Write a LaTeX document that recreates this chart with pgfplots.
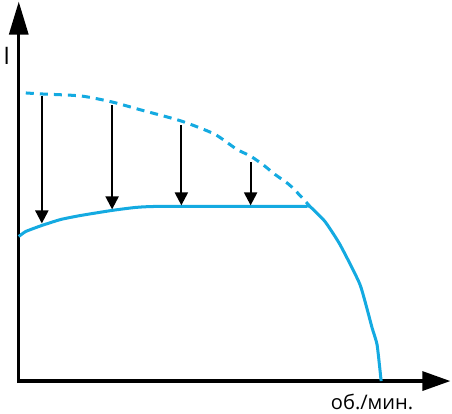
\documentclass[border=0pt]{standalone}
\usepackage{pgfplots}
\pgfplotsset{compat=1.18}
\usepackage{fontspec}
\setmainfont{Open Sans}
\usetikzlibrary{arrows.meta}
\definecolor{cblue}{RGB}{20,170,225}
\begin{document}
\begin{tikzpicture}
\begin{axis}[
  scale only axis, width=452pt, height=413pt,
  xmin=0, xmax=452, ymin=0, ymax=413,
  axis lines=none, clip=false,
]
% axes
\addplot[line width=3.2pt, -{Triangle[length=33pt,width=19pt]}] coordinates {(18,30) (18,410)};
\addplot[line width=3.2pt, -{Triangle[length=28pt,width=19pt]}] coordinates {(16.4,32) (448,32)};
% dashed curve
\addplot[cblue, line width=3pt, dash pattern=on 8pt off 6pt, smooth, tension=0.4] coordinates {
(25,319) (41,318) (80,316) (111,310) (140,302) (180,291) (213,278) (235,263) (249,256) (262,247) (273,238) (287,228) (300,215) (308,206)};
% solid curve
\addplot[cblue, line width=3pt, smooth, tension=0.3] coordinates {
(18,176) (25,181) (41,187) (60,193) (80,197) (111,202) (135,205) (160,206) (305,206)};
\addplot[cblue, line width=3pt, smooth, tension=0.3] coordinates {
(305,206) (308,206) (323,191) (338,168) (358,128) (370,85) (375,68) (379,32)};
% arrows
\addplot[line width=2.2pt, -{Triangle[length=13pt,width=13pt]}] coordinates {(41,316) (41,189)};
\addplot[line width=2.2pt, -{Triangle[length=13pt,width=13pt]}] coordinates {(111,307) (111,203)};
\addplot[line width=2.2pt, -{Triangle[length=13pt,width=13pt]}] coordinates {(180,287) (180,207)};
\addplot[line width=2.2pt, -{Triangle[length=13pt,width=13pt]}] coordinates {(249,250) (249,207)};
\node[font=\fontsize{24}{28}\selectfont] at (axis cs:6,356) {I};
\node[font=\fontsize{20}{24}\selectfont] at (axis cs:370,11) {об./мин.};
\end{axis}
\end{tikzpicture}
\end{document}
